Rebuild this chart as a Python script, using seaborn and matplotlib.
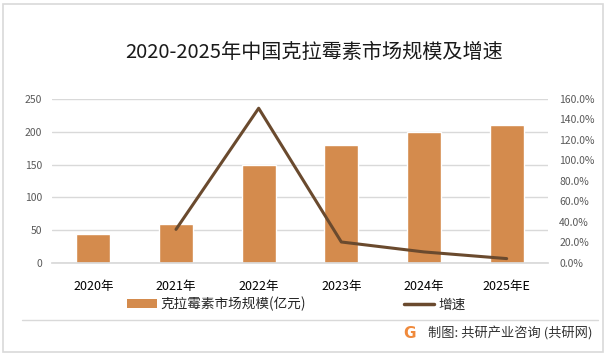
import numpy as np
import pandas as pd
import matplotlib
matplotlib.use("Agg")
import matplotlib.pyplot as plt
import seaborn as sns
from matplotlib.patches import Rectangle, Patch
from matplotlib.lines import Line2D

# ---- data ----
years = ["2020年", "2021年", "2022年", "2023年", "2024年", "2025年E"]
market_size = [44, 59, 149, 180, 200, 210]          # 亿元
growth_rate = [np.nan, 32.8, 151.0, 20.5, 10.8, 4.3]  # %
left_ticks = [0, 50, 100, 150, 200, 250]
right_ticks = [0, 20, 40, 60, 80, 100, 120, 140, 160]

title = "2020-2025年中国克拉霉素市场规模及增速"
bar_label = "克拉霉素市场规模(亿元)"
line_label = "增速"
source = "制图: 共研产业咨询 (共研网)"

BAR_C = "#D48B4D"
LINE_C = "#6A4A2E"
GRID_C = "#D9D9D9"

sns.set_theme(style="white")
plt.rcParams["font.family"] = ["Noto Sans CJK SC", "DejaVu Sans"]

df = pd.DataFrame({"year": years, "size": market_size,
                   "growth": growth_rate, "pos": np.arange(len(years))})

W, H = 608, 358
fig = plt.figure(figsize=(W / 100, H / 100), dpi=100)
ax = fig.add_axes([52 / W, 1 - 263 / H, (548 - 52) / W, (263 - 99) / H])

sns.barplot(data=df, x="year", y="size", color=BAR_C, width=0.41,
            saturation=1, ax=ax, zorder=2)
ax.set_ylim(0, 250)
ax.set_yticks(left_ticks)
ax.set_yticklabels([str(t) for t in left_ticks])
ax.set_xlim(-0.5, len(years) - 0.5)
ax.grid(axis="y", color=GRID_C, lw=1, zorder=0)
ax.set_axisbelow(True)
for s in ["top", "left", "right"]:
    ax.spines[s].set_visible(False)
ax.spines["bottom"].set_color(GRID_C)
ax.set_xlabel("")
ax.set_ylabel("")
ax.tick_params(axis="x", length=0, pad=12, labelsize=9, labelcolor="#000000")
ax.tick_params(axis="y", length=0, pad=7, labelsize=7.5, labelcolor="#595959")

ax2 = ax.twinx()
sns.lineplot(data=df, x="pos", y="growth", color=LINE_C, lw=2.2, ax=ax2,
             legend=False, zorder=3)
ax2.set_ylim(0, 160)
ax2.set_yticks(right_ticks)
ax2.set_yticklabels([f"{t:.1f}%" for t in right_ticks])
ax2.tick_params(axis="y", length=0, pad=8, labelsize=7.5, labelcolor="#595959")
for s in ax2.spines.values():
    s.set_visible(False)
ax2.set_ylabel("")
ax2.set_xlabel("")
ax2.set_xlim(-0.5, len(years) - 0.5)

fig.text(314 / W, 1 - 52 / H, title, ha="center", va="center",
         fontsize=14.5, color="#1a1a1a", fontweight="light")

handles = [Patch(facecolor=BAR_C, edgecolor="none"),
           Line2D([], [], color=LINE_C, lw=2.5)]
fig.legend(handles, [bar_label, line_label], loc="center",
           bbox_to_anchor=(296 / W, 1 - 304 / H), ncol=2, frameon=False,
           fontsize=9.8, handlelength=2.2, handleheight=0.6,
           columnspacing=7.2, handletextpad=0.3)

# footer line and source
fig.add_artist(Line2D([22 / W, 598 / W], [1 - 320 / H, 1 - 320 / H],
                      color=GRID_C, lw=1, transform=fig.transFigure))
fig.text(592 / W, 1 - 334 / H, source, ha="right", va="center",
         fontsize=9.5, color="#333333")
fig.text(409 / W, 1 - 334 / H, "G", ha="center", va="center",
         fontsize=11, fontweight="bold", color="#F08A3C",
         family=["DejaVu Sans"])

# outer border
fig.add_artist(Rectangle((3 / W, 1 - 352 / H), 600 / W, 348 / H,
                         fill=False, edgecolor=GRID_C, lw=1.2,
                         transform=fig.transFigure))

fig.savefig("out.png", dpi=100)
